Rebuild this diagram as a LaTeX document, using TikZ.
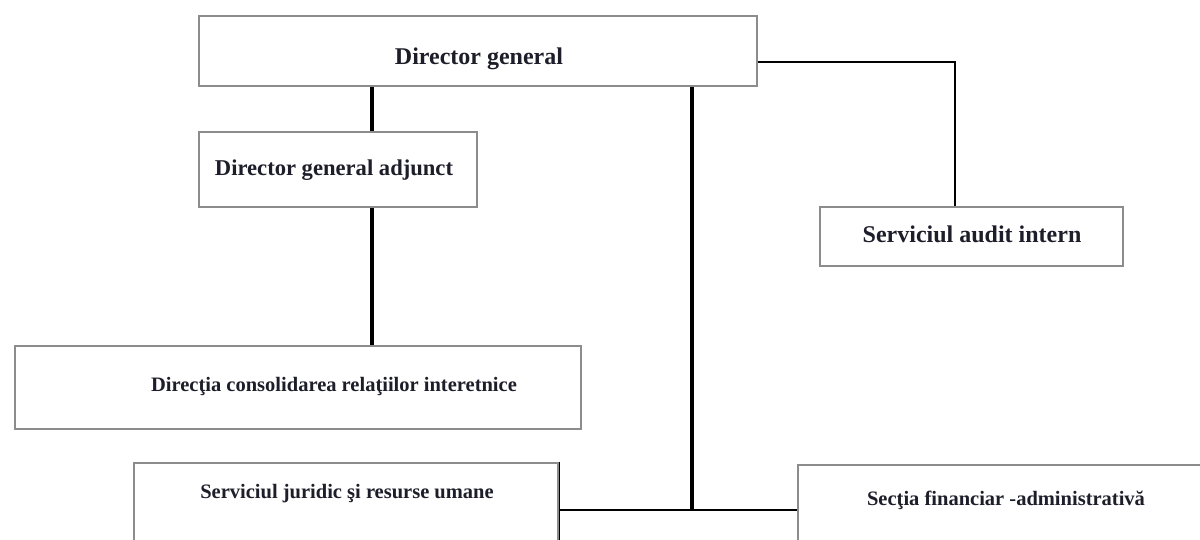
\documentclass[tikz,border=0pt]{standalone}
\usepackage{fontspec}
\setmainfont{Liberation Serif}
\definecolor{boxgray}{HTML}{8C8C8C}
\definecolor{txt}{HTML}{1E1E2A}
\begin{document}
\begin{tikzpicture}[x=1pt,y=-1pt,
  orgbox/.style={draw=boxgray, line width=2.4pt, fill=white, inner sep=0pt, anchor=north west},
  bigtxt/.style={font=\fontsize{24}{28}\selectfont\bfseries, text=txt, inner sep=0pt},
  midtxt/.style={font=\fontsize{22.6}{27}\selectfont\bfseries, text=txt, inner sep=0pt},
  smalltxt/.style={font=\fontsize{20.5}{24}\selectfont\bfseries, text=txt, inner sep=0pt},
  thickline/.style={line width=3.3pt, black},
  thinline/.style={line width=1.8pt, black}]
\useasboundingbox (0,0) rectangle (1200,539);
\fill[white] (0,0) rectangle (1200,539);

% boxes
\node[orgbox, minimum width=558pt, minimum height=70pt] (dg) at (198,15) {};
\node[bigtxt, anchor=base] (dgt) at (479,64) {Director general};

\node[orgbox, minimum width=278pt, minimum height=75pt] (dga) at (198,131) {};
\node[midtxt, anchor=base] (dgat) at (334,175) {Director general adjunct};

\node[orgbox, minimum width=303pt, minimum height=59pt] (aud) at (819,206) {};
\node[bigtxt, anchor=base] (audt) at (972,242) {Serviciul audit intern};

\node[orgbox, minimum width=566pt, minimum height=83pt] (dcri) at (14,345) {};
\node[smalltxt, anchor=base] (dcrit) at (334,391) {Direcţia consolidarea relaţiilor interetnice};

\node[orgbox, minimum width=424pt, minimum height=120pt] (sj) at (133,462) {};
\node[smalltxt, anchor=base] (sjt) at (347,498) {Serviciul juridic şi resurse umane};

\node[orgbox, minimum width=440pt, minimum height=120pt] (sfa) at (797,464) {};
\node[smalltxt, anchor=base] (sfat) at (1006,505) {Secţia financiar -administrativă};

% connectors
\coordinate (dgb1) at (372,85);
\coordinate (dgb2) at (692,85);
\coordinate (junc) at (692,510);
\coordinate (audk) at (955,62);

\draw[thickline] (dg.south -| dgb1) -- (dga.north -| dgb1);
\draw[thickline] (dga.south -| dgb1) -- (dcri.north -| dgb1);
\draw[thickline] (dg.south -| dgb2) -- (junc);
\draw[thinline] (dg.east |- audk) -- (audk) -- (aud.north -| audk);
\draw[thinline] (sj.east |- junc) -- (sfa.west |- junc);
\draw[thinline] (sj.north east) -- (sj.south east);
\end{tikzpicture}
\end{document}
